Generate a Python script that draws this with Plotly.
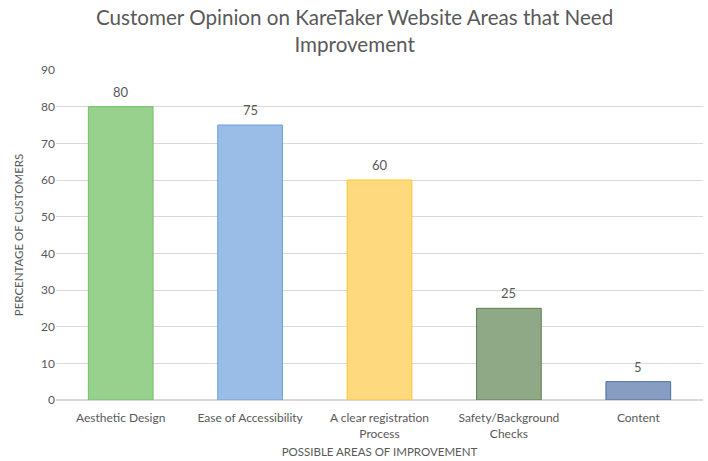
import plotly.graph_objects as go

categories = ["Aesthetic Design", "Ease of Accessibility", "A clear registration<br>Process",
              "Safety/Background<br>Checks", "Content"]
values = [80, 75, 60, 25, 5]
fill_colors = ["#98d18e", "#99bde6", "#fed97e", "#8fa885", "#889dc2"]
line_colors = ["#70c163", "#6a9fd8", "#ffc52e", "#5f7f52", "#4a6ea3"]
y_ticks = [0, 10, 20, 30, 40, 50, 60, 70, 80, 90]
title_text = "Customer Opinion on KareTaker Website Areas that Need<br>Improvement"

gray = "#595959"
font_family = "Lato, Open Sans, sans-serif"

fig = go.Figure(go.Bar(
    x=categories, y=values, width=0.5,
    marker=dict(color=fill_colors, line=dict(color=line_colors, width=1)),
    hoverinfo="x+y",
))

for c, v in zip(categories, values):
    fig.add_annotation(x=c, y=v, text=str(v), showarrow=False, yanchor="bottom", yshift=5,
                       font=dict(size=13, color=gray, family=font_family))

fig.add_annotation(text=title_text, xref="paper", yref="paper", x=0.4606, y=1.1197,
                   xanchor="center", yanchor="middle", showarrow=False,
                   font=dict(size=20.6, color=gray, family=font_family))

fig.update_layout(
    width=708, height=461,
    margin=dict(l=56, r=5, t=70, b=61, autoexpand=False),
    paper_bgcolor="white", plot_bgcolor="white",
    font=dict(family=font_family, color=gray),
    showlegend=False,
)
fig.update_xaxes(
    automargin=False,
    tickfont=dict(size=12, color=gray), showgrid=False, showline=False,
    ticks="outside", ticklen=7, tickcolor="rgba(0,0,0,0)",
    title=dict(text="POSSIBLE AREAS OF IMPROVEMENT", font=dict(size=11.5, color=gray), standoff=7),
)
fig.update_yaxes(
    automargin=False,
    range=[0, 90], tickvals=y_ticks, showgrid=True, gridcolor="#d9d9d9", gridwidth=1,
    zeroline=True, zerolinecolor="#d9d9d9", showline=False, ticks="", ticklen=0,
    tickfont=dict(size=12, color=gray),
    title=dict(text="PERCENTAGE OF CUSTOMERS", font=dict(size=11.5, color=gray), standoff=15),
)

fig.write_html("out.html", config={"displayModeBar": False},
               post_script="document.body.style.margin='0';")
